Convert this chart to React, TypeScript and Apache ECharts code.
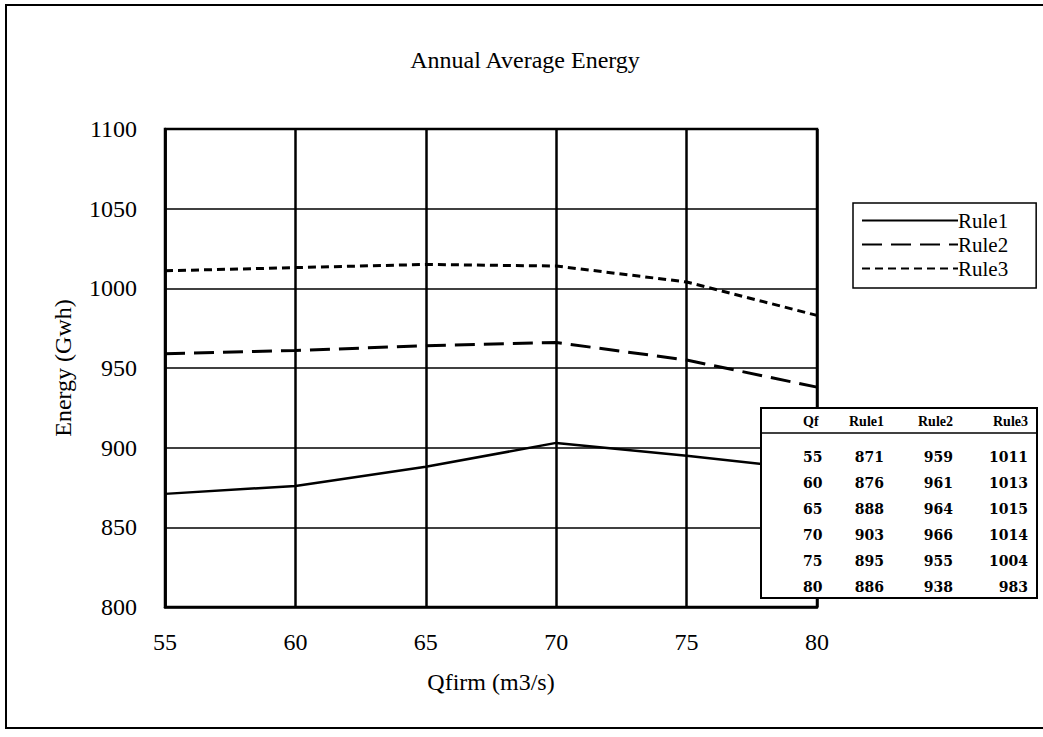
import React, { useEffect, useRef } from "react";
import * as echarts from "echarts";

const qf = [55, 60, 65, 70, 75, 80];
const rule1 = [871, 876, 888, 903, 895, 886];
const rule2 = [959, 961, 964, 966, 955, 938];
const rule3 = [1011, 1013, 1015, 1014, 1004, 983];
const seriesNames = ["Rule1", "Rule2", "Rule3"];
const tableHeaders = ["Qf", "Rule1", "Rule2", "Rule3"];

const FONT = "Liberation Serif";
const TFONT = "DejaVu Serif";

export default function App() {
  const ref = useRef<HTMLDivElement>(null);
  useEffect(() => {
    if (!ref.current) return;
    const chart = echarts.init(ref.current, null, { renderer: "svg" });
    const all = [rule1, rule2, rule3];
    const dashTypes: any[] = ["solid", [20, 9], [8, 5]];

    // table graphic
    const tx = 761, ty = 408, tw = 276, th = 190;
    const colRight = [null, 884, 953, 1028];
    const Z = 100;
    const tableChildren: any[] = [
      { type: "rect", z: Z, shape: { x: tx, y: ty, width: tw, height: th }, style: { fill: "#fff", stroke: "#000", lineWidth: 2 } },
      { type: "line", z: Z + 1, shape: { x1: tx, y1: 433, x2: tx + tw, y2: 433 }, style: { stroke: "#000", lineWidth: 1.5 } },
    ];
    tableHeaders.forEach((h, c) => {
      tableChildren.push({
        type: "text",
        z: Z + 1,
        style: {
          text: h,
          x: c === 0 ? 803 : (colRight[c] as number),
          y: 421,
          align: c === 0 ? "left" : "right",
          verticalAlign: "middle",
          font: `bold 14px "${FONT}"`,
          fill: "#000",
        },
      });
    });
    qf.forEach((q, r) => {
      const y = 457 + r * 26;
      const vals = [q, rule1[r], rule2[r], rule3[r]];
      vals.forEach((v, c) => {
        tableChildren.push({
          type: "text",
          z: Z + 1,
          style: {
            text: String(v),
            x: c === 0 ? 803 : (colRight[c] as number),
            y,
            align: c === 0 ? "left" : "right",
            verticalAlign: "middle",
            font: `bold 14px "${TFONT}"`,
            fill: "#000",
          },
        });
      });
    });

    chart.setOption({
      animation: false,
      backgroundColor: "#fff",
      textStyle: { fontFamily: FONT, color: "#000" },
      title: {
        text: "Annual Average Energy",
        left: 520,
        top: 43,
        textAlign: "center",
        textStyle: { fontFamily: FONT, fontSize: 24, fontWeight: "normal", color: "#000" },
      },
      legend: {
        orient: "vertical",
        left: 853,
        top: 203,
        data: seriesNames,
        borderColor: "#000",
        borderWidth: 1.5,
        padding: [7, 28, 9, 8],
        itemWidth: 96,
        itemHeight: 14,
        itemGap: 3,
        itemStyle: { opacity: 0 },
        textStyle: { fontFamily: FONT, fontSize: 21, color: "#000", padding: [0, 0, 0, -5], lineHeight: 21 },
      },
      grid: { left: 165, right: 226, top: 129, bottom: 130, show: true, borderColor: "#000", borderWidth: 2.5 },
      xAxis: {
        type: "value",
        min: 55,
        max: 80,
        interval: 5,
        name: "Qfirm (m3/s)",
        nameLocation: "middle",
        nameGap: 63,
        nameTextStyle: { fontFamily: FONT, fontSize: 24, color: "#000" },
        axisLine: { show: true, lineStyle: { color: "#000", width: 2.5 } },
        axisTick: { show: false },
        axisLabel: { margin: 23, fontFamily: FONT, fontSize: 24, color: "#000", formatter: (v: number) => String(v) },
        splitLine: { show: true, lineStyle: { color: "#000", width: 2.5 } },
      },
      yAxis: {
        type: "value",
        min: 800,
        max: 1100,
        interval: 50,
        name: "Energy (Gwh)",
        nameLocation: "middle",
        nameGap: 90,
        nameTextStyle: { fontFamily: FONT, fontSize: 24, color: "#000" },
        axisLine: { show: true, lineStyle: { color: "#000", width: 2.5 } },
        axisTick: { show: false },
        axisLabel: { margin: 28, fontFamily: FONT, fontSize: 24, color: "#000", formatter: (v: number) => String(v) },
        splitLine: { show: true, lineStyle: { color: "#000", width: 1.5 } },
      },
      series: seriesNames.map((name, k) => ({
        name,
        type: "line",
        symbol: "none",
        data: qf.map((q, i) => [q, all[k][i]]),
        lineStyle: { color: "#000", width: k === 0 ? 2.5 : 3, type: dashTypes[k] },
        itemStyle: { color: "#000" },
        z: 3,
      })),
      graphic: [
        { type: "rect", shape: { x: 6, y: 5, width: 1100, height: 723 }, style: { fill: "none", stroke: "#000", lineWidth: 2 }, z: 50, silent: true },
        { type: "group", z: Z, children: tableChildren },
      ],
    });
    return () => chart.dispose();
  }, []);
  return <div ref={ref} style={{ position: "fixed", left: 0, top: 0, width: 1043, height: 737 }} />;
}
